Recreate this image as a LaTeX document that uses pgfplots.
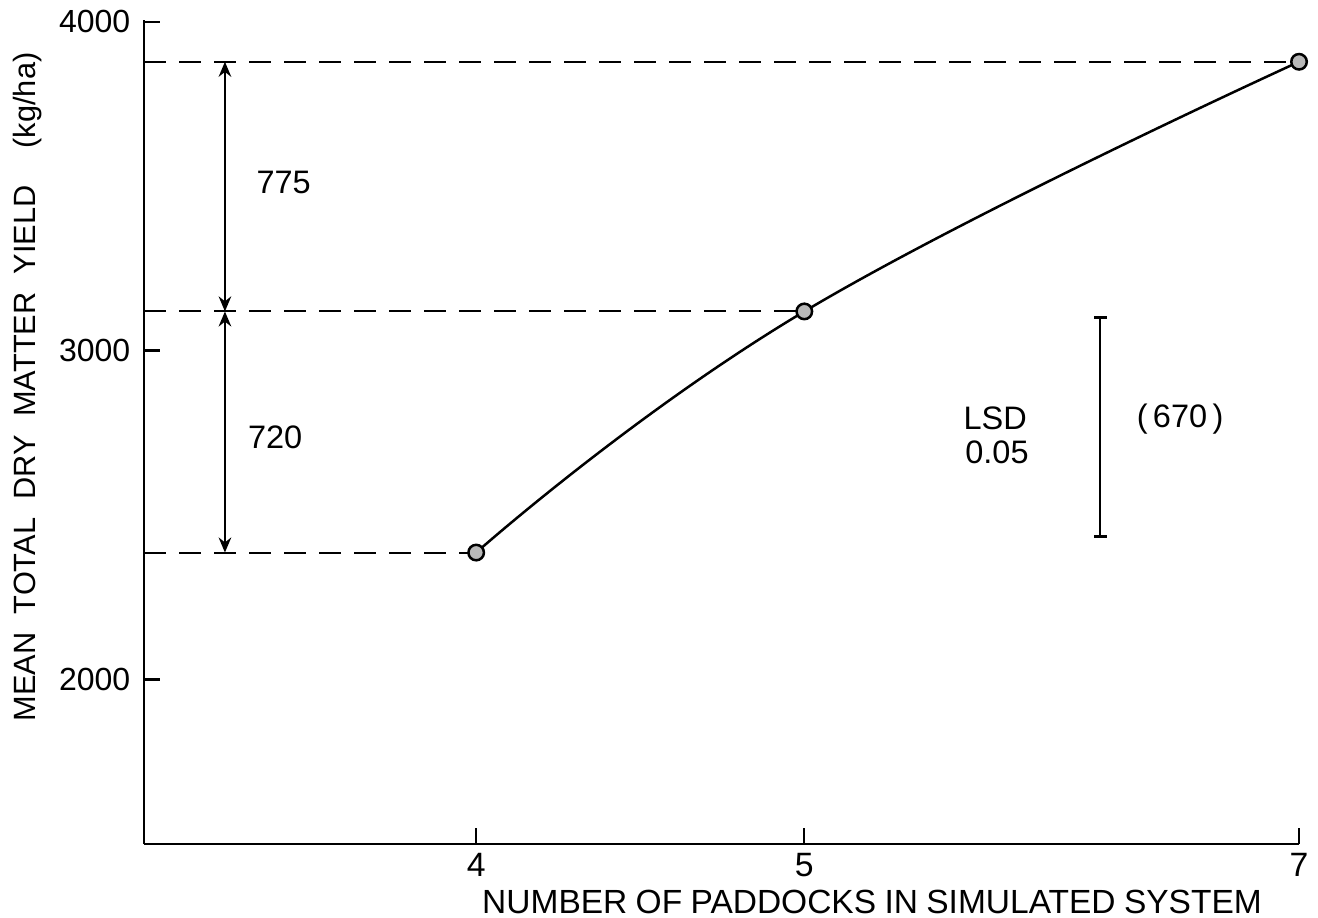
\documentclass[border=0pt]{standalone}
\usepackage{pgfplots}
\pgfplotsset{compat=1.18}
\usepackage{pgfplotstable}
\usepackage{fontspec}
\setmainfont{Liberation Sans}
\usetikzlibrary{arrows.meta}

\pgfplotstableread{
n y
4 2386
5 3119
7 3878
}\yieldtable

\newcommand\wsp{\hspace{0.6em}}
\begin{document}
\begin{tikzpicture}
\path[use as bounding box] (-57.6pt,-29.2pt) rectangle (469.6pt,337.6pt);
\begin{axis}[
  scale only axis, width=462pt, height=329.6pt,
  xmode=log, xmin=3.1916, xmax=7, ymin=1500, ymax=4005,
  xtick={4,5,7}, xticklabels={4,5,7}, minor xtick={},
  ytick={2000,3000,4000}, yticklabels={2000,3000,4000},
  axis x line*=bottom, axis y line*=left,
  axis line style={-, line width=1pt},
  tick align=inside, major tick length=6.5pt,
  tick style={line width=0.9pt, black},
  yticklabel style={font=\fontsize{12.8}{14}\selectfont, xshift=-2pt},
  xticklabel style={font=\fontsize{13.5}{14}\selectfont},
  clip=false,
]
% dashed reference lines
\addplot[black, line width=0.8pt, dash pattern=on 8.8pt off 5.2pt] coordinates {(3.1916,3878) (7,3878)};
\addplot[black, line width=0.8pt, dash pattern=on 8.8pt off 5.2pt] coordinates {(3.1916,3119) (5,3119)};
\addplot[black, line width=0.8pt, dash pattern=on 8.8pt off 5.2pt] coordinates {(3.1916,2386) (4,2386)};
% difference arrows
\addplot[black, line width=1pt, {Stealth[length=6pt,width=5pt]}-{Stealth[length=6pt,width=5pt]}] coordinates {(3.372,3878) (3.372,3119)};
\addplot[black, line width=1pt, {Stealth[length=6pt,width=5pt]}-{Stealth[length=6pt,width=5pt]}] coordinates {(3.372,3119) (3.372,2386)};
% LSD bar
\addplot[black, line width=1pt, mark=-, mark size=2.6pt, mark options={line width=1pt}] coordinates {(6.114,2435) (6.114,3100)};
% main curve
\addplot[black, line width=1pt, smooth, tension=0.75, mark=*, mark size=3.1pt, mark options={fill=gray!55, draw=black, line width=1pt}] table[x=n, y=y] {\yieldtable};
% annotations
\node[anchor=west, font=\fontsize{13}{14}\selectfont] at (axis cs:3.425,3511) {775};
\node[anchor=west, font=\fontsize{13}{14}\selectfont] at (axis cs:3.405,2736) {720};
\node[font=\fontsize{13}{14}\selectfont] at (axis cs:5.693,2793) {LSD};
\node[font=\fontsize{13}{14}\selectfont] at (axis cs:5.70,2690) {0.05};
\node[font=\fontsize{13}{14}\selectfont] at (axis cs:6.456,2793) {(\,670\,)};
% axis labels
\node[rotate=90, font=\fontsize{12.3}{14}\selectfont] at ([xshift=-46.4pt]rel axis cs:0,0.5546) {MEAN\wsp TOTAL\wsp DRY\wsp MATTER\wsp YIELD\wsp\wsp(kg/ha)};
\node[font=\fontsize{13.4}{14}\selectfont] at ([yshift=-23pt]rel axis cs:0.6303,0) {NUMBER\hspace{0.25em}OF\hspace{0.25em}PADDOCKS\hspace{0.25em}IN\hspace{0.25em}SIMULATED\hspace{0.25em}SYSTEM};
\end{axis}
\end{tikzpicture}
\end{document}
